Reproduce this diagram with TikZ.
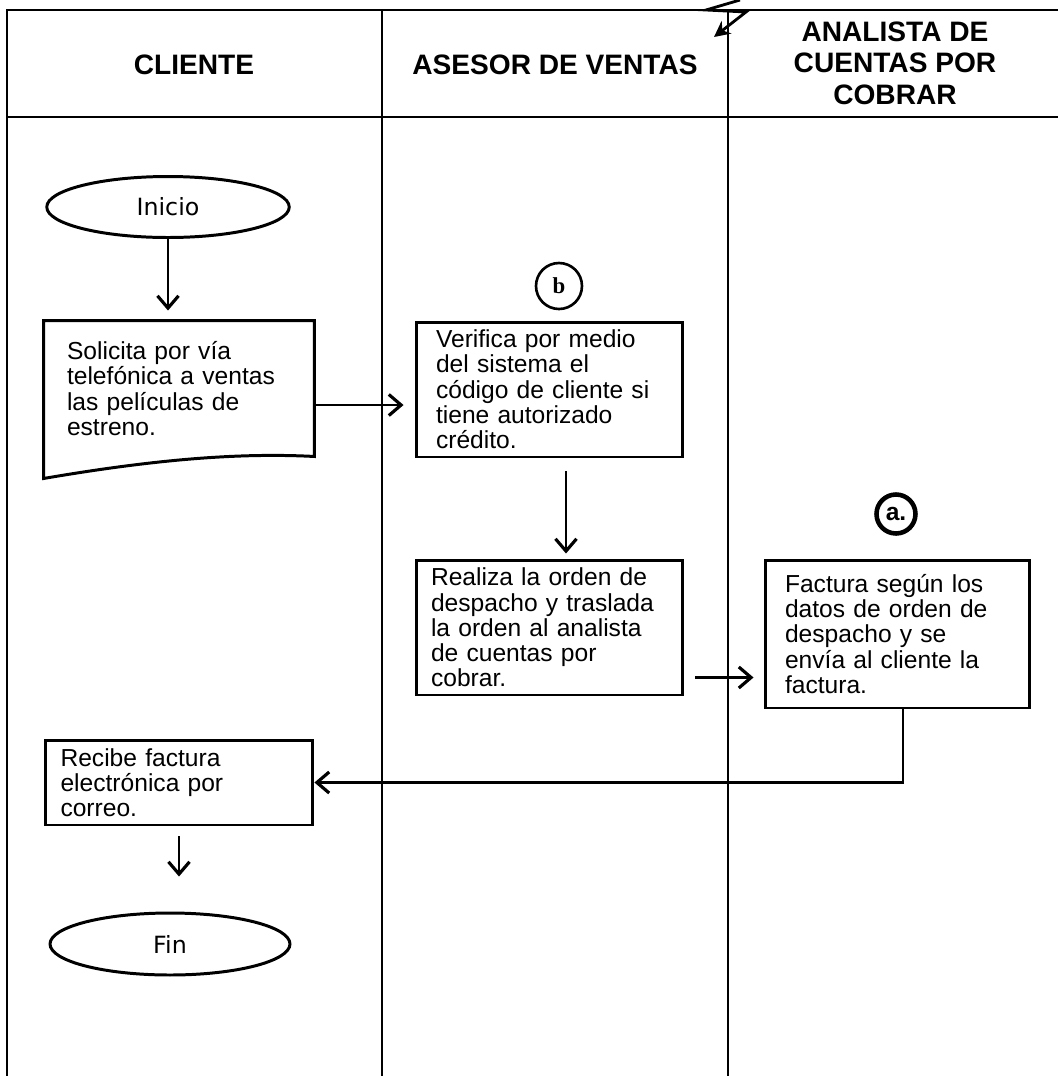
\documentclass[tikz,border=0pt]{standalone}
\usepackage{fontspec}
\setmainfont{Liberation Sans}
\newfontfamily\termfont{DejaVu Sans}
\newfontfamily\markfont{Liberation Serif}
\usepackage{tikz}
\usetikzlibrary{positioning, arrows.meta, shapes.geometric, calc}

\begin{document}
\begin{tikzpicture}[
  x=0.02cm, y=-0.02cm,
  lane/.style={line width=1.1pt, black},
  lanehead/.style={font=\fontsize{16}{18}\selectfont\bfseries, align=center},
  procbox/.style={
    rectangle, draw=black, line width=1.7pt,
    minimum width=5.34cm, minimum height=2.7cm,
    inner xsep=0.3cm, text width=4.74cm, align=left,
    font=\fontsize{14}{14.4}\selectfont
  },
  termnode/.style={
    ellipse, draw=black, line width=1.7pt, inner sep=0pt,
    minimum width=4.85cm, minimum height=1.22cm,
    font=\termfont\fontsize{13.5}{15}\selectfont
  },
  refcircle/.style={circle, draw=black, inner sep=0pt},
  flow/.style={line width=1.6pt, -{Straight Barb[length=7pt,width=12pt,line width=1.8pt]}},
]
\useasboundingbox (0,0) rectangle (1058,1076);

% Lanes
\draw[lane] (7,1076) -- (7,10) -- (1058,10);
\draw[lane] (7,117) -- (1058,117);
\foreach \xl in {382,728} {
  \draw[lane] (\xl,10) -- (\xl,1076);
}

% Lane headers
\node[lanehead] (hcli) at (194,65) {CLIENTE};
\node[lanehead] (hase) at (555,65) {ASESOR DE VENTAS};
\node[lanehead] (hana) at (895,63) {ANALISTA DE\\CUENTAS POR\\COBRAR};

% Mark over the lane line
\draw[line width=1.6pt, -{Stealth[length=9pt,width=9pt]}]
  (740,0) -- (706,10) -- (746,12) -- (714,37);

% Cliente
\node[termnode] (ini) at (168,207) {Inicio};
\node[procbox, draw=none, minimum width=5.36cm, minimum height=2.66cm,
  inner xsep=0.44cm, text width=4.48cm] (sol) at (179,388.5)
  {Solicita por vía\\telefónica a ventas\\las películas de\\estreno.};
\draw[line width=1.7pt] (sol.south west) -- (sol.north west) -- (sol.north east)
  -- (sol.south east) .. controls (230,452) and (140,462) .. ($(sol.south west)+(0,22)$)
  -- (sol.south west);
\node[procbox, minimum width=5.36cm, minimum height=1.7cm] (rec) at (179,782.5)
  {Recibe factura\\electrónica por\\correo.};
\node[termnode, minimum width=4.8cm, minimum height=1.24cm] (fin) at (170,944) {Fin};

% Asesor de ventas
\node[refcircle, line width=1.5pt, minimum size=0.92cm,
  font=\markfont\fontsize{13}{14}\selectfont\bfseries] (cb) at (559,286) {b};
\node[procbox, inner xsep=0.4cm, text width=4.54cm] (ver) at (549.5,389.5)
  {Verifica por medio\\del sistema el\\código de cliente si\\tiene autorizado\\crédito.};
\node[procbox] (rea) at (549.5,627.5)
  {Realiza la orden de\\despacho y traslada\\la orden al analista\\de cuentas por\\cobrar.};

% Analista de cuentas por cobrar
\node[refcircle, line width=2.6pt, minimum size=0.78cm,
  font=\fontsize{14}{15}\selectfont\bfseries] (ca) at (896,514) {a.};
\node[procbox, minimum width=5.3cm, minimum height=2.96cm,
  inner xsep=0.4cm, text width=4.5cm] (fac) at (897.5,634)
  {Factura según los\\datos de orden de\\despacho y se\\envía al cliente la\\factura.};

% Connections
\draw[flow, shorten >=0.2cm] (ini.south) -- (ini.south |- sol.north);
\draw[flow, shorten <=0.04cm, shorten >=0.22cm]
  ([yshift=-0.33cm]sol.east) -- ([yshift=-0.33cm]sol.east -| ver.west);
\draw[flow, shorten <=0.26cm, shorten >=0.1cm]
  ([xshift=0.33cm]ver.south) -- ([xshift=0.33cm]ver.south |- rea.north);
\draw[flow, shorten <=0.22cm, shorten >=0.2cm]
  ([yshift=-1cm]rea.east) -- ([yshift=-1cm]rea.east -| fac.west);
\draw[flow] ([xshift=0.11cm]fac.south) |- (rec.east);
\draw[flow, shorten <=0.2cm, shorten >=0.7cm] (rec.south) -- (rec.south |- fin.north);

\end{tikzpicture}
\end{document}
